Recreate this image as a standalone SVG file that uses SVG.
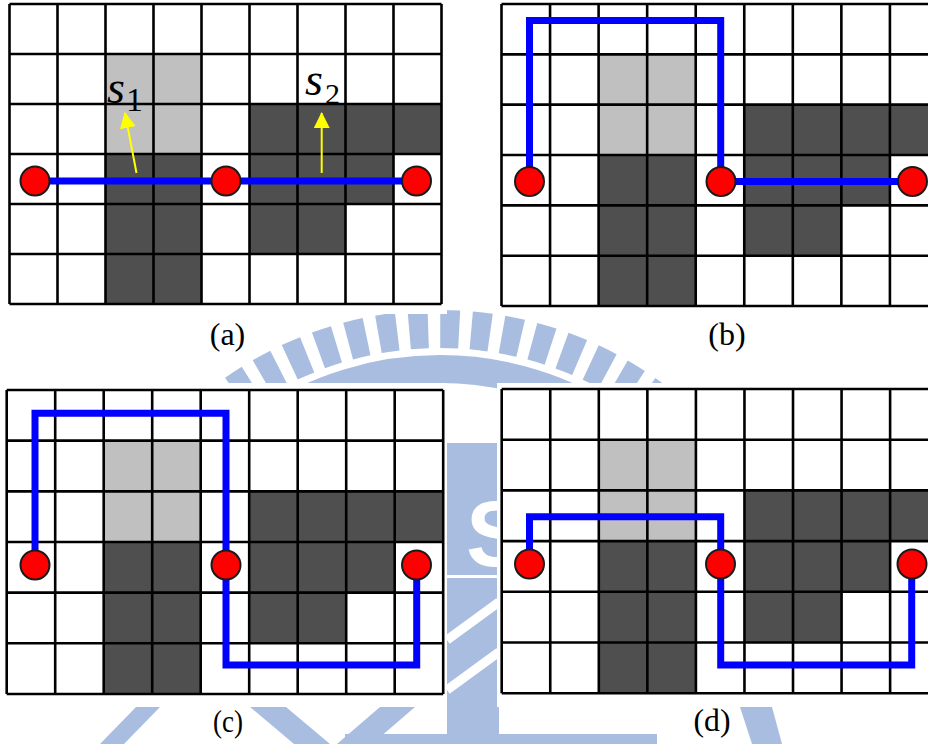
<svg xmlns="http://www.w3.org/2000/svg" width="928" height="744" viewBox="0 0 928 744">
<style>
.wm{fill:#a9bde0}
.wmr{fill:none;stroke:#a9bde0}
.panel{fill:#fff}
.lg{fill:#c0c0c0}
.dk{fill:#4f4f4f}
.gl{fill:none;stroke:#000;stroke-width:2.6;vector-effect:non-scaling-stroke}
.route{fill:none;stroke:#0000ff;stroke-width:7;stroke-linejoin:miter}
.ptr{stroke:#ffff00;stroke-width:2;fill:none}
.node{fill:#ff0000;stroke:#1a1a1a;stroke-width:2}
.t{font-family:'Liberation Serif','Times New Roman',Times,serif;fill:#000}
.cap{font-size:32px;text-anchor:middle}
.sym{font-style:italic;font-size:46px}
.sub{font-size:34px}
.wmt{font-family:'Liberation Sans',Arial,sans-serif;font-weight:bold;font-size:92px;fill:#fff}
</style>
<defs>
<marker id="yh" markerUnits="userSpaceOnUse" markerWidth="16" markerHeight="16" refX="15" refY="8" orient="auto"><path d="M0,0 L16,8 L0,16 Z" fill="#ffff00"/></marker>
<g id="grid">
<rect x="0" y="0" width="432" height="300" fill="#fff"/>
<rect class="lg" x="96" y="50" width="96" height="100"/>
<path class="dk" d="M96,150H192V300H96Z M240,100H432V150H384V200H336V250H240Z"/>
<path class="gl" d="M0,0V300M48,0V300M96,0V300M144,0V300M192,0V300M240,0V300M288,0V300M336,0V300M384,0V300M432,0V300M0,0H432M0,50H432M0,100H432M0,150H432M0,200H432M0,250H432M0,300H432"/>
</g>
</defs>

<g id="watermark">
<path class="wmr" stroke-width="38" stroke-dasharray="19 12.07" d="M105.5,563.2 A356,356 0 0 1 774.5,563.2"/>
<path class="wmr" stroke-width="28" d="M143.1,576.9 A316,316 0 0 1 736.9,576.9"/>
<rect class="wm" x="447" y="443" width="52" height="301"/>
<rect x="447" y="575" width="52" height="3" fill="#fff"/>
<path d="M447,640 L499,602 M447,690 L499,652" stroke="#fff" stroke-width="9"/>
<text class="wmt" x="466" y="566">S</text>
<rect class="wm" x="345" y="734" width="312" height="10"/>
<path class="wm" d="M100,744L124,744L160,707L136,707Z M250,707L286,707L330,744L294,744Z M380,707L415,707L372,744L337,744Z M740,707L772,707L782,744L752,744Z"/>
</g>

<g id="backgrounds">
<rect class="panel" x="0" y="0" width="447" height="314"/>
<rect class="panel" x="497" y="0" width="431" height="313"/>
<rect class="panel" x="0" y="383" width="447" height="324"/>
<rect class="panel" x="497" y="383" width="431" height="324"/>
</g>

<g id="panel-a"><use href="#grid" transform="translate(9.5,4)"/></g>
<g id="panel-b"><use href="#grid" transform="translate(501.5,4) scale(1.0115,1.0067)"/></g>
<g id="panel-c"><use href="#grid" transform="translate(6.7,390) scale(1.0104,1.0133)"/></g>
<g id="panel-d"><use href="#grid" transform="translate(501.7,389) scale(1.0115,1.014)"/></g>

<g id="connectors">
<path class="route" d="M35,181H416.5"/>
<path class="route" d="M529.5,181.5V20.5H720.7V181.5M721,181.5H912.5"/>
<path class="route" d="M35,565V413.3H226V565M226,565V665H416.7V565"/>
<path class="route" d="M529.5,564V516.7H720.7V564M720.7,564V665H911.7V564"/>
<line class="ptr" x1="136.5" y1="173" x2="125" y2="113" marker-end="url(#yh)"/>
<line class="ptr" x1="321.7" y1="173" x2="321.7" y2="113" marker-end="url(#yh)"/>
</g>

<g id="node-a1"><circle class="node" cx="35" cy="181" r="14.5"/></g>
<g id="node-a2"><circle class="node" cx="226" cy="181" r="14.5"/></g>
<g id="node-a3"><circle class="node" cx="416.5" cy="181" r="14.5"/></g>
<g id="node-b1"><circle class="node" cx="529.5" cy="181.5" r="14.5"/></g>
<g id="node-b2"><circle class="node" cx="721" cy="181.5" r="14.5"/></g>
<g id="node-b3"><circle class="node" cx="912.5" cy="181.5" r="14.5"/></g>
<g id="node-c1"><circle class="node" cx="35" cy="565" r="14.5"/></g>
<g id="node-c2"><circle class="node" cx="226" cy="565" r="14.5"/></g>
<g id="node-c3"><circle class="node" cx="416.5" cy="565" r="14.5"/></g>
<g id="node-d1"><circle class="node" cx="529.5" cy="564" r="14.5"/></g>
<g id="node-d2"><circle class="node" cx="720.5" cy="564" r="14.5"/></g>
<g id="node-d3"><circle class="node" cx="912" cy="564" r="14.5"/></g>

<g id="labels">
<text class="t sym" x="107" y="103">s</text><text class="t sub" x="126" y="111">1</text>
<text class="t sym" x="305" y="95">s</text><text class="t sub" x="325" y="104" style="font-size:30px">2</text>
<text class="t cap" x="227.5" y="345">(a)</text>
<text class="t cap" x="727" y="345">(b)</text>
<text class="t cap" x="228" y="732" textLength="30" lengthAdjust="spacingAndGlyphs">(c)</text>
<text class="t cap" x="712" y="731" textLength="37" lengthAdjust="spacingAndGlyphs">(d)</text>
</g>
</svg>
